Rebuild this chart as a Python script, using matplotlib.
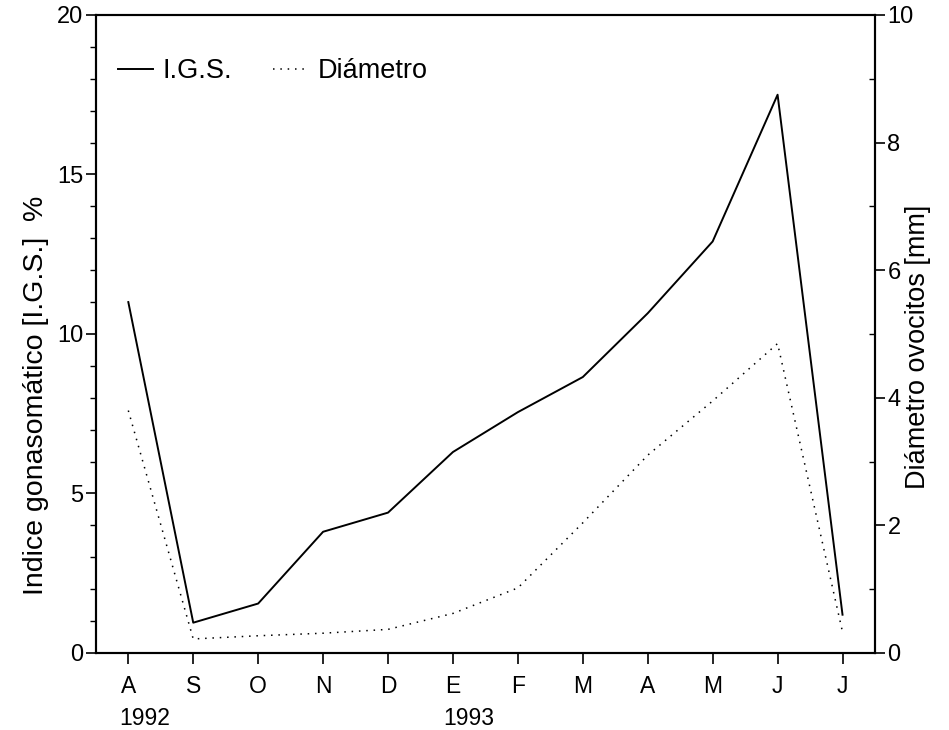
import matplotlib.pyplot as plt
from matplotlib.ticker import MultipleLocator
import matplotlib.transforms as mtransforms

plt.rcParams['font.family'] = ['Liberation Sans', 'DejaVu Sans']

# datos
meses = ['A', 'S', 'O', 'N', 'D', 'E', 'F', 'M', 'A', 'M', 'J', 'J']
igs = [11.0, 0.95, 1.55, 3.8, 4.4, 6.3, 7.55, 8.65, 10.65, 12.9, 17.5, 1.2]
diametro = [3.8, 0.22, 0.27, 0.31, 0.37, 0.62, 1.02, 2.04, 3.1, 3.95, 4.85, 0.33]
anios = ['1992', '1993']
pos_anios = [0, 5]

x = list(range(len(meses)))

fig = plt.figure(figsize=(9.49, 7.30), dpi=100)
ax = fig.add_axes([0.101, 0.1055, 0.821, 0.874])
ax2 = ax.twinx()

l1, = ax.plot(x, igs, color='black', lw=1.4, label='I.G.S.')
l2, = ax2.plot(x, diametro, color='black', lw=1.1, linestyle=(0, (1, 3.8)), label='Diámetro')

ax.set_xlim(-0.5, 11.5)
ax.set_ylim(0, 20)
ax2.set_ylim(0, 10)

ax.set_xticks(x)
ax.set_xticklabels(meses)
ax.yaxis.set_major_locator(MultipleLocator(5))
ax.yaxis.set_minor_locator(MultipleLocator(1))
ax2.yaxis.set_major_locator(MultipleLocator(2))
ax2.yaxis.set_minor_locator(MultipleLocator(1))

ax.tick_params(axis='x', length=8, width=1.2, pad=8, labelsize=16.5)
ax.tick_params(axis='y', which='major', length=7, width=1.2, pad=2, labelsize=17)
ax.tick_params(axis='y', which='minor', length=4, width=1)
ax2.tick_params(axis='y', which='major', length=7, width=1.2, pad=2, labelsize=17)
ax2.tick_params(axis='y', which='minor', length=4, width=1, direction='in')

for a in (ax, ax2):
    for s in a.spines.values():
        s.set_linewidth(1.5)

ax.set_ylabel('Indice gonasomático [I.G.S.]  %', fontsize=20.5)
ax.yaxis.set_label_coords(-0.060, 0.404)
ax2.set_ylabel('Diámetro ovocitos [mm]', fontsize=19.5)
ax2.yaxis.set_label_coords(1.0385, 0.48)

# años debajo de los meses
trans = mtransforms.blended_transform_factory(ax.transData, ax.transAxes)
for p, t in zip(pos_anios, anios):
    ax.text(p + 0.25, -0.103, t, transform=trans, ha='center', va='center', fontsize=16.5)

ax.legend(handles=[l1, l2], loc='upper left', ncol=2, frameon=False, fontsize=19.5,
          handlelength=1.3, handletextpad=0.35, columnspacing=1.5,
          bbox_to_anchor=(-0.003, 0.97), borderaxespad=0.5)

fig.savefig('out.png', dpi=100)
